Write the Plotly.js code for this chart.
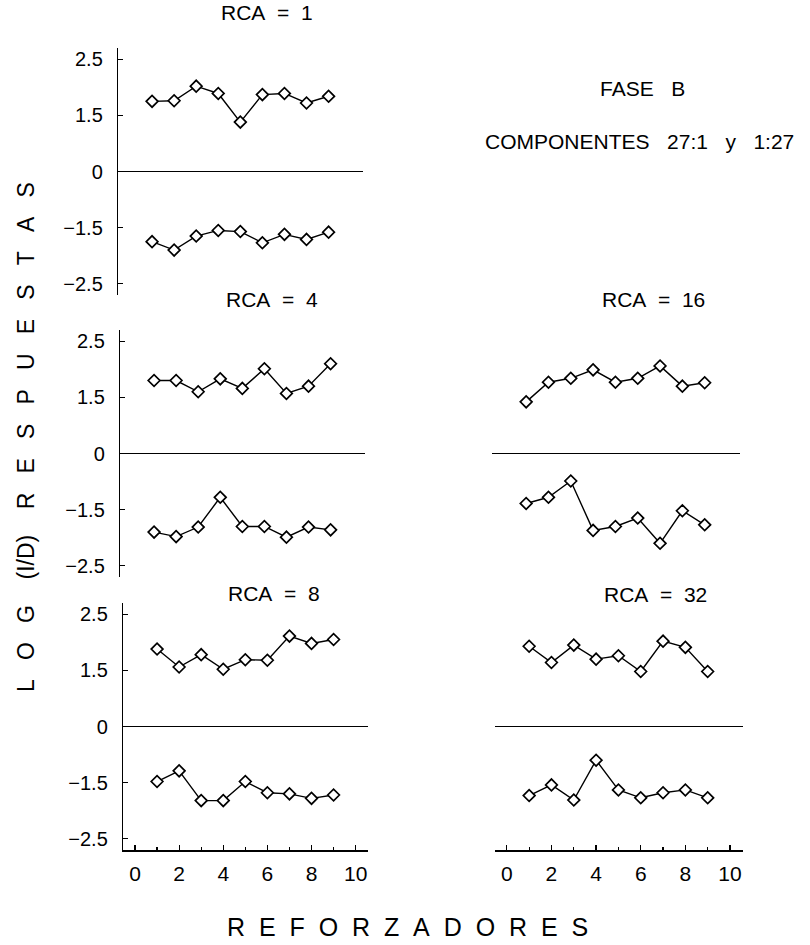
<!DOCTYPE html>
<html>
<head>
<meta charset="utf-8">
<script src="https://cdn.plot.ly/plotly-3.0.1.min.js"></script>
<style>html,body{margin:0;padding:0;background:#fff;}#chart{width:810px;height:945px;}</style>
</head>
<body>
<div id="chart"></div>
<script>
// ---- data (y values in axis position units; tick labels map positions to printed values) ----
const reforzadores = [1, 2, 3, 4, 5, 6, 7, 8, 9];
const yTickPos = [-2, -1, 0, 1, 2];
const yTickText = ['\u22122.5', '\u22121.5', '0', '1.5', '2.5'];
const xTickVals = [0, 2, 4, 6, 8, 10];
const xTickText = ['0', '2', '4', '6', '8', '10'];
const NB2 = '\u00a0\u00a0';
const NB3 = '\u00a0\u00a0\u00a0';
const panelTitles = ['RCA' + NB2 + '=' + NB2 + '1', 'RCA' + NB2 + '=' + NB2 + '4', 'RCA' + NB2 + '=' + NB2 + '8',
                     'RCA' + NB2 + '=' + NB2 + '16', 'RCA' + NB2 + '=' + NB2 + '32'];

const rca1_upper  = [1.25, 1.26, 1.52, 1.39, 0.88, 1.37, 1.39, 1.22, 1.34];
const rca1_lower  = [-1.25, -1.40, -1.15, -1.05, -1.07, -1.27, -1.12, -1.21, -1.08];
const rca4_upper  = [1.30, 1.30, 1.10, 1.33, 1.16, 1.51, 1.07, 1.20, 1.60];
const rca4_lower  = [-1.40, -1.48, -1.31, -0.78, -1.30, -1.30, -1.49, -1.31, -1.36];
const rca8_upper  = [1.38, 1.06, 1.28, 1.02, 1.19, 1.18, 1.61, 1.48, 1.55];
const rca8_lower  = [-0.98, -0.79, -1.32, -1.32, -0.98, -1.18, -1.20, -1.28, -1.22];
const rca16_upper = [0.92, 1.27, 1.34, 1.49, 1.27, 1.34, 1.56, 1.20, 1.26];
const rca16_lower = [-0.89, -0.78, -0.49, -1.37, -1.30, -1.15, -1.60, -1.02, -1.27];
const rca32_upper = [1.43, 1.14, 1.45, 1.20, 1.26, 0.98, 1.52, 1.41, 0.98];
const rca32_lower = [-1.23, -1.04, -1.31, -0.60, -1.13, -1.27, -1.18, -1.13, -1.27];

// ---- layout helpers ----
const W = 810, H = 945;
const FONT = 'Liberation Sans, Arial, Helvetica, sans-serif';
const dx = (a, b) => [a / W, b / W];
const dy = (top, bot) => [1 - bot / H, 1 - top / H];
const px = v => v / W;
const py = v => 1 - v / H;

const series = [
  [rca1_upper, rca1_lower],
  [rca4_upper, rca4_lower],
  [rca8_upper, rca8_lower],
  [rca16_upper, rca16_lower],
  [rca32_upper, rca32_lower]
];

const data = [];
series.forEach((pair, i) => {
  const n = i + 1;
  pair.forEach(vals => {
    data.push({
      x: reforzadores, y: vals, type: 'scatter', mode: 'lines+markers',
      xaxis: 'x' + (n === 1 ? '' : n), yaxis: 'y' + (n === 1 ? '' : n),
      line: {color: '#000', width: 1.4},
      marker: {symbol: 'diamond', size: 9, color: '#fff', line: {color: '#000', width: 1.7}},
      showlegend: false, hoverinfo: 'skip'
    });
  });
});

function yAxis(domain, showAxis) {
  return {
    domain: domain, range: [-2.2, 2.2], showgrid: false,
    zeroline: true, zerolinecolor: '#000', zerolinewidth: 1.5,
    showline: showAxis, linecolor: '#000', linewidth: 1.5,
    ticks: showAxis ? 'inside' : '', ticklen: 5, tickwidth: 1.2, tickcolor: '#000',
    tickmode: 'array', tickvals: yTickPos, ticktext: yTickText,
    showticklabels: showAxis, ticklabelstandoff: 10,
    tickfont: {family: FONT, size: 20, color: '#000'},
    fixedrange: true
  };
}
function xAxis(domain, showAxis, anchor) {
  return {
    domain: domain, range: [-0.53, 10.56], showgrid: false, zeroline: false,
    showline: showAxis, linecolor: '#000', linewidth: 1.5,
    ticks: showAxis ? 'inside' : '', ticklen: 5, tickwidth: 1.2, tickcolor: '#000',
    tickmode: 'array', tickvals: xTickVals, ticktext: xTickText,
    minor: showAxis ? {tickvals: [1, 3, 5, 7, 9], ticks: 'inside', ticklen: 3, tickwidth: 1.2, tickcolor: '#000'} : undefined,
    showticklabels: showAxis, ticklabelstandoff: 4,
    tickfont: {family: FONT, size: 21, color: '#000'},
    anchor: anchor, fixedrange: true
  };
}

const xTitle = 'REFORZADORES'.split('').join(NB2);
const yTitle = ['L', 'O', 'G'].join(NB3) + '\u00a0\u00a0\u00a0\u00a0(I/D)\u00a0\u00a0\u00a0\u00a0' + 'RESPUESTAS'.split('').join(NB3);

const layout = {
  width: W, height: H, margin: {l: 0, r: 0, t: 0, b: 0},
  paper_bgcolor: '#fff', plot_bgcolor: 'rgba(0,0,0,0)',
  font: {family: FONT, color: '#000'},
  showlegend: false,
  xaxis:  xAxis(dx(118.3, 363), false, 'y'),
  yaxis:  yAxis(dy(48, 295), true),
  xaxis2: xAxis(dx(120.3, 365), false, 'y2'),
  yaxis2: Object.assign(yAxis(dy(330, 577), true), {anchor: 'x2'}),
  xaxis3: xAxis(dx(123.3, 368), true, 'y3'),
  yaxis3: Object.assign(yAxis(dy(603, 850), true), {anchor: 'x3'}),
  xaxis4: xAxis(dx(492, 739.5), false, 'y4'),
  yaxis4: Object.assign(yAxis(dy(330, 577), false), {anchor: 'x4'}),
  xaxis5: xAxis(dx(495, 742.5), true, 'y5'),
  yaxis5: Object.assign(yAxis(dy(603, 850), false), {anchor: 'x5'}),
  annotations: [
    {text: panelTitles[0], x: px(267), y: py(13)},
    {text: panelTitles[1], x: px(272), y: py(299)},
    {text: panelTitles[2], x: px(274), y: py(593)},
    {text: panelTitles[3], x: px(653), y: py(299)},
    {text: panelTitles[4], x: px(655), y: py(594)},
    {text: 'FASE' + NB3 + 'B', x: px(642), y: py(88)},
    {text: 'COMPONENTES' + NB3 + '27:1' + NB3 + 'y' + NB3 + '1:27', x: px(639), y: py(141)},
    {text: xTitle, x: px(408), y: py(927), font: {family: FONT, size: 25, color: '#000'}},
    {text: yTitle, x: px(26), y: py(437), textangle: -90, font: {family: FONT, size: 23, color: '#000'}}
  ].map(a => Object.assign({xref: 'paper', yref: 'paper', showarrow: false, xanchor: 'center', yanchor: 'middle',
                            font: {family: FONT, size: 21, color: '#000'}}, a))
};

Plotly.newPlot('chart', data, layout, {staticPlot: true, displayModeBar: false});
</script>
</body>
</html>
